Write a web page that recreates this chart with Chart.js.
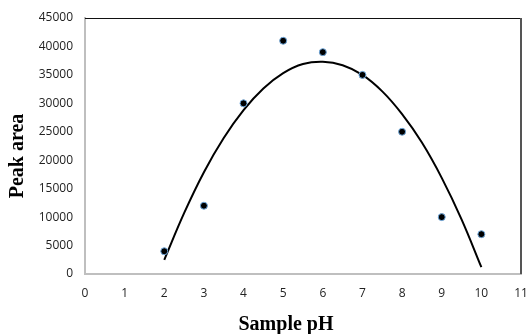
<!DOCTYPE html>
<html>
<head>
<meta charset="utf-8">
<script src="https://cdn.jsdelivr.net/npm/chart.js@4/dist/chart.umd.min.js"></script>
<style>
  html, body { margin: 0; padding: 0; background: #fff; }
  #wrap { width: 528px; height: 334px; }
</style>
</head>
<body>
<div id="wrap"><canvas id="phChart"></canvas></div>
<script>
// measured points
const samplePH = [2, 3, 4, 5, 6, 7, 8, 9, 10];
const peakArea = [4000, 12000, 30000, 41000, 39000, 35000, 25000, 10000, 7000];

// trend curve
const trendPH = [2, 2.5, 3, 3.5, 4, 4.5, 5, 5.5, 6, 6.5, 7, 7.5, 8, 8.5, 9, 9.5, 10];
const trendArea = [2500, 10700, 17900, 23900, 28800, 32600, 35300, 36900, 37300, 36700, 35000, 32100, 28100, 23100, 16900, 9600, 1200];

const xTicks = [0, 1, 2, 3, 4, 5, 6, 7, 8, 9, 10, 11];
const yTicks = [0, 5000, 10000, 15000, 20000, 25000, 30000, 35000, 40000, 45000];

const xTitle = 'Sample pH';
const yTitle = 'Peak area';

// frame (top/right) and axis titles
const framePlugin = {
    id: 'frame',
    afterDraw(chart) {
        const { ctx, chartArea: a } = chart;
        ctx.save();
        ctx.strokeStyle = '#111';
        ctx.lineWidth = 1;
        ctx.beginPath();
        ctx.moveTo(a.left, a.top + 0.5);
        ctx.lineTo(a.right, a.top + 0.5);
        ctx.stroke();
        ctx.strokeStyle = '#555';
        ctx.lineWidth = 2;
        ctx.beginPath();
        ctx.moveTo(a.right, a.top);
        ctx.lineTo(a.right, a.bottom);
        ctx.stroke();

        ctx.fillStyle = '#000';
        ctx.font = 'bold 20px "Liberation Serif", "Times New Roman", serif';
        ctx.textAlign = 'center';
        ctx.textBaseline = 'alphabetic';
        ctx.fillText(xTitle, 286, 330);
        ctx.translate(23, 156);
        ctx.rotate(-Math.PI / 2);
        ctx.fillText(yTitle, 0, 0);
        ctx.restore();
    }
};

const tickFont = { family: '"Open Sans", sans-serif', size: 12 };

new Chart(document.getElementById('phChart'), {
    type: 'scatter',
    data: {
        datasets: [
            {
                label: 'Peak area',
                data: samplePH.map((x, i) => ({ x: x, y: peakArea[i] })),
                pointRadius: 3.5,
                pointBackgroundColor: '#000',
                pointBorderColor: '#6fa8dc',
                pointBorderWidth: 1,
                showLine: false
            },
            {
                label: 'Trend',
                data: trendPH.map((x, i) => ({ x: x, y: trendArea[i] })),
                showLine: true,
                borderColor: '#000',
                borderWidth: 2,
                pointRadius: 0,
                tension: 0.4,
                fill: false
            }
        ]
    },
    options: {
        responsive: true,
        maintainAspectRatio: false,
        animation: false,
        layout: { padding: { top: 18, right: 7, left: 0, bottom: 0 } },
        plugins: {
            legend: { display: false },
            tooltip: { enabled: false }
        },
        scales: {
            x: {
                type: 'linear',
                min: 0,
                max: 11,
                afterBuildTicks: s => { s.ticks = xTicks.map(v => ({ value: v })); },
                afterFit: s => { s.height = 60; s.paddingRight = 0; s.paddingLeft = 0; },
                grid: { display: false, drawTicks: false },
                border: { display: true, color: '#bfbfbf', width: 2 },
                ticks: { font: tickFont, color: '#222', padding: 12, maxRotation: 0, callback: v => String(v) }
            },
            y: {
                min: 0,
                max: 45000,
                afterBuildTicks: s => { s.ticks = yTicks.map(v => ({ value: v })); },
                afterFit: s => { s.width = 85; s.paddingTop = 0; s.paddingBottom = 0; },
                grid: { display: false, drawTicks: false },
                border: { display: true, color: '#bfbfbf', width: 2 },
                ticks: { font: tickFont, color: '#222', padding: 12, callback: v => String(v) }
            }
        }
    },
    plugins: [framePlugin]
});
</script>
</body>
</html>
